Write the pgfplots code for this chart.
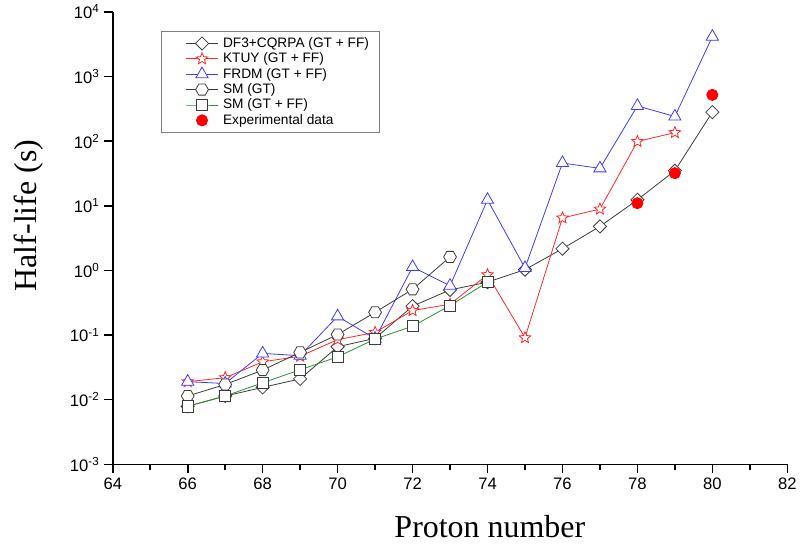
\documentclass[border=0pt]{standalone}
\usepackage{pgfplots}
\pgfplotsset{compat=1.18}
\usepackage{fontspec}
\setmainfont{Liberation Sans}
\newfontfamily\timesfont{Liberation Serif}
\usetikzlibrary{plotmarks}

% outlined hexagon and star marks
\pgfdeclareplotmark{hexagon}{%
  \pgfpathmoveto{\pgfqpointpolar{0}{\pgfplotmarksize}}%
  \pgfpathlineto{\pgfqpointpolar{60}{\pgfplotmarksize}}%
  \pgfpathlineto{\pgfqpointpolar{120}{\pgfplotmarksize}}%
  \pgfpathlineto{\pgfqpointpolar{180}{\pgfplotmarksize}}%
  \pgfpathlineto{\pgfqpointpolar{240}{\pgfplotmarksize}}%
  \pgfpathlineto{\pgfqpointpolar{300}{\pgfplotmarksize}}%
  \pgfpathclose
  \pgfusepathqfillstroke}
\pgfdeclareplotmark{ostar}{%
  \pgfpathmoveto{\pgfqpointpolar{90}{\pgfplotmarksize}}%
  \pgfpathlineto{\pgfqpointpolar{126}{0.45\pgfplotmarksize}}%
  \pgfpathlineto{\pgfqpointpolar{162}{\pgfplotmarksize}}%
  \pgfpathlineto{\pgfqpointpolar{198}{0.45\pgfplotmarksize}}%
  \pgfpathlineto{\pgfqpointpolar{234}{\pgfplotmarksize}}%
  \pgfpathlineto{\pgfqpointpolar{270}{0.45\pgfplotmarksize}}%
  \pgfpathlineto{\pgfqpointpolar{306}{\pgfplotmarksize}}%
  \pgfpathlineto{\pgfqpointpolar{342}{0.45\pgfplotmarksize}}%
  \pgfpathlineto{\pgfqpointpolar{18}{\pgfplotmarksize}}%
  \pgfpathlineto{\pgfqpointpolar{54}{0.45\pgfplotmarksize}}%
  \pgfpathclose
  \pgfusepathqfillstroke}

\definecolor{lgray}{RGB}{60,60,60}
\definecolor{lred}{RGB}{255,40,40}
\definecolor{lblue}{RGB}{60,60,255}
\definecolor{lgreen}{RGB}{40,150,40}

\pgfplotsset{
  linelegend/.style={legend image code/.code={%
    \path (-12.5pt,0pt);
    \draw[mark repeat=2,mark phase=2,##1] plot coordinates {(0pt,0pt) (12pt,0pt) (24pt,0pt)};}},
  dotlegend/.style={legend image code/.code={%
    \path (-12.5pt,0pt) (24pt,0pt);
    \draw[##1] plot coordinates {(12pt,0pt)};}},
}

\begin{document}
\begin{tikzpicture}
\begin{axis}[
  scale only axis, width=507pt, height=340pt,
  ymode=log, log basis y=10,
  xmin=64, xmax=82, ymin=1e-3, ymax=1e4,
  axis x line*=bottom, axis y line*=left,
  axis line style={-, line width=1.2pt},
  every tick/.style={black, line width=1.2pt},
  tick align=outside,
  major tick length=6.5pt, minor tick length=4pt,
  xtick={64,66,...,82}, minor x tick num=1,
  ytick={1e-3,1e-2,1e-1,1,1e1,1e2,1e3,1e4},
  yticklabels={10\textsuperscript{-3},10\textsuperscript{-2},10\textsuperscript{-1},10\textsuperscript{0},10\textsuperscript{1},10\textsuperscript{2},10\textsuperscript{3},10\textsuperscript{4}},
  /pgf/number format/assume math mode=true,
  tick label style={font=\fontsize{12.5}{14}\selectfont},
  xlabel={\timesfont Proton number},
  ylabel={\timesfont Half-life (s)},
  label style={font=\fontsize{24}{28}\selectfont},
  xlabel style={at={(axis description cs:0.559,-0.137)}, anchor=center},
  ylabel style={at={(axis description cs:-0.125,0.55)}, anchor=center},
  legend cell align=left,
  legend style={at={(axis description cs:0.071,0.958)}, anchor=north west,
    draw=gray, line width=0.6pt, font=\fontsize{10.3}{12}\selectfont,
    inner xsep=6pt, inner ysep=2.6pt, row sep=-1.4pt, column sep=1.5pt},
  every axis plot/.append style={line width=0.6pt},
]
\addplot[lgray, linelegend, mark=square*, mark size=3.5pt, mark options={rotate=45, fill=white, draw=lgray}] coordinates {
 (66,0.0079) (67,0.0114) (68,0.0155) (69,0.021) (70,0.066) (71,0.089) (72,0.28) (73,0.5)
 (74,0.66) (75,1.03) (76,2.17) (77,4.8) (78,12.4) (79,35) (80,282)};
\addlegendentry{DF3+CQRPA (GT + FF)}
\addplot[lred, linelegend, mark=ostar, mark size=4.5pt, mark options={fill=white, draw=lred}] coordinates {
 (66,0.019) (67,0.0219) (68,0.0386) (69,0.047) (70,0.085) (71,0.11) (72,0.24) (73,0.30)
 (74,0.86) (75,0.091) (76,6.5) (77,8.9) (78,99) (79,136)};
\addlegendentry{KTUY (GT + FF)}
\addplot[lblue, linelegend, mark=triangle*, mark size=5.3pt, mark options={fill=white, draw=lblue}] coordinates {
 (66,0.019) (67,0.0178) (68,0.052) (69,0.048) (70,0.195) (71,0.088) (72,1.13) (73,0.58)
 (74,12.4) (75,1.09) (76,46) (77,38) (78,352) (79,241) (80,4150)};
\addlegendentry{FRDM (GT + FF)}
\addplot[lgray, linelegend, mark=hexagon, mark size=4.8pt, mark options={fill=white, draw=lgray}] coordinates {
 (66,0.0114) (67,0.0172) (68,0.0287) (69,0.054) (70,0.102) (71,0.225) (72,0.51) (73,1.62)};
\addlegendentry{SM (GT)}
\addplot[lgreen, linelegend, mark=square*, mark size=4.2pt, mark options={fill=white, draw=lgray}] coordinates {
 (66,0.0079) (67,0.0114) (68,0.0183) (69,0.029) (70,0.046) (71,0.087) (72,0.137) (73,0.286) (74,0.66)};
\addlegendentry{SM (GT + FF)}
\addplot[only marks, dotlegend, mark=*, mark size=4.2pt, red, mark options={fill=red, draw=red}] coordinates {
 (78,11) (79,32) (80,521)};
\addlegendentry{Experimental data}
\end{axis}
\path (current axis.south west) ++(-84.75pt,-62.25pt);
\path (current axis.north east) ++(9pt,9pt);
\end{tikzpicture}
\end{document}
